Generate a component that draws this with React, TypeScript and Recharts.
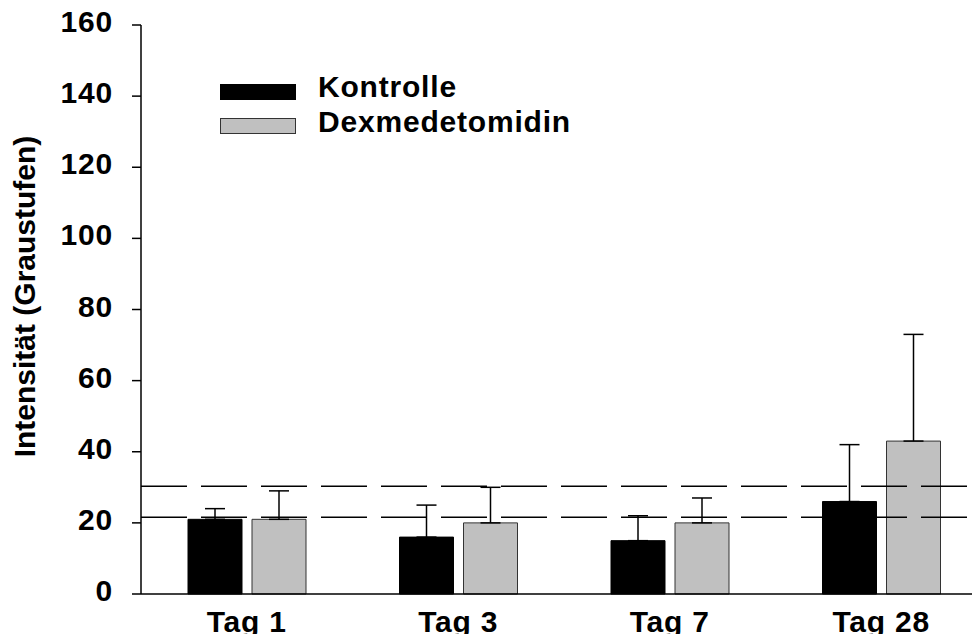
import { BarChart, Bar, XAxis, YAxis, ErrorBar, ReferenceLine, Legend } from 'recharts';

const days = ['Tag 1', 'Tag 3', 'Tag 7', 'Tag 28'];
const kontrolle = [21, 16, 15, 26];
const kontrolleErr = [3, 9, 7, 16];
const dexmedetomidin = [21, 20, 20, 43];
const dexmedetomidinErr = [8, 10, 7, 30];
const yTicks = [0, 20, 40, 60, 80, 100, 120, 140, 160];
const referenceLevels = [30.3, 21.6];
const seriesOrder = ['Kontrolle', 'Dexmedetomidin'];

const data = days.map((day, i) => ({
  day,
  kontrolle: kontrolle[i],
  kontrolleErr: [0, kontrolleErr[i]],
  dex: dexmedetomidin[i],
  dexErr: [0, dexmedetomidinErr[i]],
}));

const FONT = '"Liberation Sans", Arial, sans-serif';
const textStyle = { fontFamily: FONT, fontWeight: 'bold' as const, fontSize: 30, letterSpacing: 0.8 };

function YTick({ x, y, payload }: any) {
  return (
    <text x={x} y={y} dy={7} textAnchor="end" style={textStyle} fill="#000">
      {payload.value}
    </text>
  );
}

function XTick({ x, y, payload }: any) {
  return (
    <text x={x} y={y} dy={36} textAnchor="middle" style={textStyle} fill="#000">
      {payload.value}
    </text>
  );
}

function YLabel({ viewBox }: any) {
  const cx = 27;
  const cy = viewBox.y + viewBox.height / 2 - 13;
  return (
    <text x={cx} y={cy} transform={`rotate(-90, ${cx}, ${cy})`} textAnchor="middle" style={{ ...textStyle, letterSpacing: 0 }} fill="#000">
      Intensität (Graustufen)
    </text>
  );
}

function LegendBox({ payload }: any) {
  const items = [...(payload || [])].sort(
    (a: any, b: any) => seriesOrder.indexOf(a.value) - seriesOrder.indexOf(b.value)
  );
  return (
    <svg width={400} height={70}>
      {items.map((item: any, i: number) => (
        <g key={item.value}>
          <rect x={0.5} y={14.5 + i * 34} width={75} height={15} fill={item.color} stroke={i === 0 ? '#000' : '#333'} strokeWidth={1} />
          <text x={98} y={27 + i * 35} style={textStyle} fill="#000">
            {item.value}
          </text>
        </g>
      ))}
    </svg>
  );
}

export default function App() {
  return (
    <div style={{ width: 972, height: 642, overflow: 'hidden', marginTop: -8, marginBottom: -8 }}>
      <BarChart
        width={990}
        height={642}
        data={data}
        margin={{ top: 25, right: 11, left: 0, bottom: 8 }}
        barSize={54}
        barGap={10}
      >
        <XAxis
          dataKey="day"
          height={40}
          tick={<XTick />}
          tickLine={false}
          tickSize={0}
          axisLine={{ stroke: '#000', strokeWidth: 1.5 }}
        />
        <YAxis
          width={133}
          domain={[0, 160]}
          ticks={yTicks}
          interval={0}
          tick={<YTick />}
          tickSize={9}
          tickMargin={19}
          tickLine={{ stroke: '#000', strokeWidth: 1.5 }}
          axisLine={{ stroke: '#000', strokeWidth: 1.5 }}
          label={<YLabel />}
        />
        <Legend
          layout="vertical"
          align="center"
          verticalAlign="middle"
          content={<LegendBox />}
          wrapperStyle={{ position: 'absolute', left: 212, top: 70, width: 400 }}
        />
        <Bar dataKey="kontrolle" name="Kontrolle" fill="#000" stroke="#000" isAnimationActive={false}>
          <ErrorBar dataKey="kontrolleErr" direction="y" width={10} stroke="#000" strokeWidth={1.5} isAnimationActive={false} />
        </Bar>
        <Bar dataKey="dex" name="Dexmedetomidin" fill="#c0c0c0" stroke="#333" strokeWidth={1} isAnimationActive={false}>
          <ErrorBar dataKey="dexErr" direction="y" width={10} stroke="#000" strokeWidth={1.5} isAnimationActive={false} />
        </Bar>
        {referenceLevels.map((level) => (
          <ReferenceLine key={level} y={level} stroke="#000" strokeWidth={1.5} strokeDasharray="46 14" />
        ))}
      </BarChart>
    </div>
  );
}
